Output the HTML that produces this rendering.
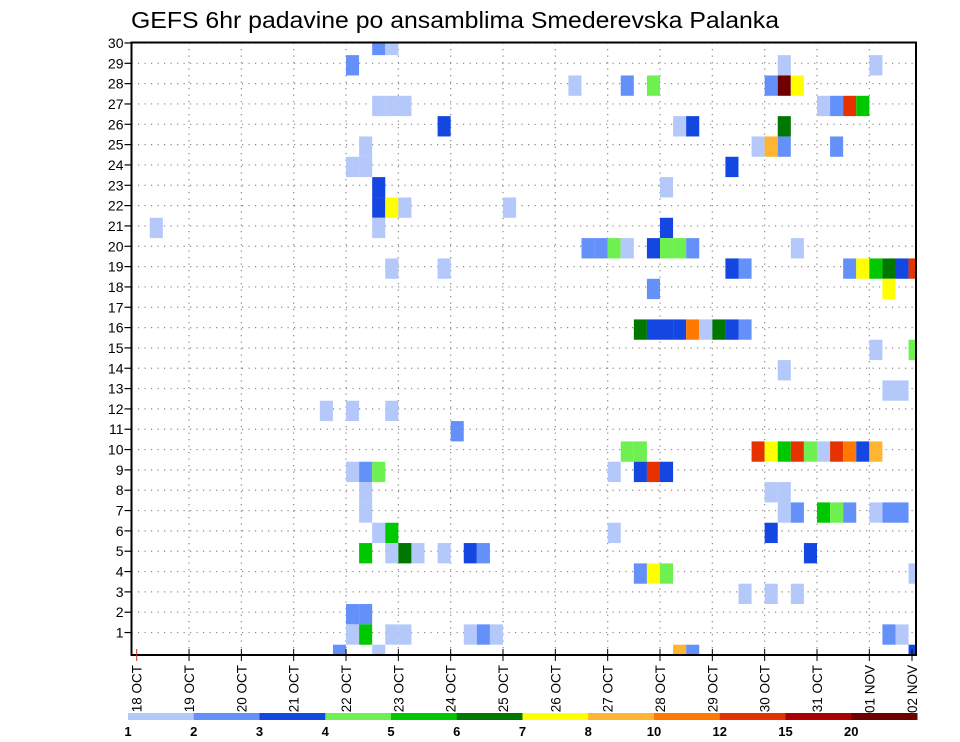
<!DOCTYPE html>
<html><head><meta charset="utf-8"><style>
html,body{margin:0;padding:0;background:#fff;}
svg{display:block;font-family:"Liberation Sans","DejaVu Sans",sans-serif;}
</style></head><body>
<svg id="chart" width="960" height="742" viewBox="0 0 960 742" xmlns="http://www.w3.org/2000/svg">
<rect width="960" height="742" fill="#fff"/>
<text x="131" y="28" font-size="23" textLength="648" lengthAdjust="spacingAndGlyphs" fill="#000">GEFS 6hr padavine po ansamblima Smederevska Palanka</text>
<g id="grid"></g><g id="cells"></g><g id="axes"></g><g id="legend"></g>
</svg>
<script>
// ---- data ----
const dayLabels = ["18 OCT","19 OCT","20 OCT","21 OCT","22 OCT","23 OCT","24 OCT","25 OCT","26 OCT","27 OCT","28 OCT","29 OCT","30 OCT","31 OCT","01 NOV","02 NOV"];
const memberTicks = [1,2,3,4,5,6,7,8,9,10,11,12,13,14,15,16,17,18,19,20,21,22,23,24,25,26,27,28,29,30];
const levelLabels = ["1","2","3","4","5","6","7","8","10","12","15","20"];
const levelColors = ["#b4c8fa","#6490fa","#1446e1","#6ef050","#00c800","#007800","#ffff00","#ffb432","#ff7800","#e63200","#aa0000","#700000"];
// cells: member row, 6-hour step index (from 18 OCT 00z), colour level index (0..11)
const cellMember = [
30,30, 29,29,29, 28,28,28,28,28,28, 27,27,27,27,27,27,27, 26,26,26,26, 25,25,25,25,25, 24,24,24, 23,23,
22,22,22,22, 21,21,21, 20,20,20,20,20,20,20,20,20, 19,19,19,19,19,19,19,19,19,19, 18,18,
16,16,16,16,16,16,16,16,16, 15,15, 14, 13,13, 12,12,12, 11,
10,10,10,10,10,10,10,10,10,10,10,10, 9,9,9,9,9,9,9, 8,8,8, 7,7,7,7,7,7,7,7,7,
6,6,6,6, 5,5,5,5,5,5,5,5, 4,4,4,4, 3,3,3, 2,2, 1,1,1,1,1,1,1,1,1, 0,0,0,0,0];
const cellStep = [
18,19, 16,49,56, 33,37,39,48,49,50, 18,19,20,52,53,54,55, 23,41,42,49, 17,47,48,49,53, 16,17,45, 18,40,
18,19,20,28, 1,18,40, 34,35,36,37,39,40,41,42,50, 19,23,45,46,54,55,56,57,58,59, 39,57,
38,39,40,41,42,43,44,45,46, 56,59, 49, 57,58, 14,16,19, 24,
37,38,47,48,49,50,51,52,53,54,55,56, 16,17,18,36,38,39,40, 17,48,49, 17,49,50,52,53,54,56,57,58,
18,19,36,48, 17,19,20,21,23,25,26,51, 38,39,40,59, 46,48,50, 16,17, 16,17,19,20,25,26,27,57,58, 15,18,41,42,59];
const cellLevel = [
1,0, 1,0,0, 0,1,3,1,11,6, 0,0,0,0,1,9,4, 2,0,2,5, 0,0,7,1,1, 0,0,2, 2,0,
2,6,0,0, 0,0,2, 1,1,3,0,2,3,3,1,0, 0,0,2,1,1,6,4,5,2,9, 1,6,
5,2,2,2,8,0,5,2,1, 0,3, 0, 0,0, 0,0,0, 1,
3,3,9,6,4,9,3,0,9,8,2,7, 0,1,3,0,2,9,2, 0,0,0, 0,0,1,4,3,1,0,1,1,
0,4,0,2, 4,0,5,0,0,2,1,2, 1,6,3,0, 0,0,0, 1,1, 0,4,0,0,0,1,0,1,0, 1,0,7,1,2];

// ---- scales ----
const L=131.5, R=916, T=42.5, B=655;
const X0=136.7, DAY=52.33, STEP=DAY/4;
const ROW=20.33;
function xStep(s){return X0+s*STEP;}
function yMember(m){return 63.3+(29-m)*ROW+2;}
const NS="http://www.w3.org/2000/svg";
function mk(tag,attrs,parent){const e=document.createElementNS(NS,tag);for(const k in attrs)e.setAttribute(k,attrs[k]);parent.appendChild(e);return e;}
const grid=document.getElementById('grid'),cells=document.getElementById('cells'),axes=document.getElementById('axes'),legend=document.getElementById('legend');

// grid
memberTicks.forEach(m=>{const y=yMember(m)-2;
  const ln=mk('line',{x1:L,x2:R,y1:y,y2:y,stroke:'#888','stroke-width':1.2,'stroke-dasharray':'1.2,5.3'},grid);
  
  
});
dayLabels.forEach((d,i)=>{let x=X0+i*DAY; if(x>R)x=R; if(i===0)return;
  const ln=mk('line',{x1:x,x2:x,y1:T,y2:B,stroke:'#888','stroke-width':1.2,'stroke-dasharray':'1.2,5.3'},grid);
  
  
});

// cells
mk('clipPath',{id:'pc'},cells).appendChild(document.createElementNS(NS,'rect'));
const cr=document.querySelector('#pc rect');cr.setAttribute('x',L);cr.setAttribute('y',T);cr.setAttribute('width',R-L);cr.setAttribute('height',B-T);
const cg=mk('g',{'clip-path':'url(#pc)'},cells);
for(let k=0;k<cellMember.length;k++){
  const x=xStep(cellStep[k]), yc=yMember(cellMember[k]);
  const r=mk('rect',{x:x.toFixed(2),y:(yc-ROW/2).toFixed(2),width:STEP.toFixed(2),height:ROW.toFixed(2),fill:levelColors[cellLevel[k]]},cg);
  
  
}

// frame
const fr=mk('rect',{x:L,y:T,width:R-L,height:B-T,fill:'none',stroke:'#000','stroke-width':2},axes);



// y axis
memberTicks.forEach(m=>{const y=yMember(m)-2;
  mk('line',{x1:L-7,x2:L+1,y1:y,y2:y,stroke:'#000','stroke-width':1.2},axes);
  const t=mk('text',{x:L-8,y:y+5,'font-size':14,'text-anchor':'end',fill:'#000'},axes);
  t.textContent=m;
  
  
});
// x axis
dayLabels.forEach((d,i)=>{let x=X0+i*DAY; if(x>R)x=R-4;
  mk('line',{x1:x,x2:x,y1:B-6,y2:B+6,stroke:i===0?'#c33':'#000','stroke-width':1},axes);
  const t=mk('text',{x:0,y:0,'font-size':13.5,'text-anchor':'end',fill:'#000',transform:`translate(${x+5},${B+10}) rotate(-90)`},axes);
  t.textContent=d;
  
  
});

// legend colour bar
const LX=128, LW=(917-128)/12;
levelColors.forEach((c,i)=>{
  const r=mk('rect',{x:LX+i*LW,y:713,width:LW+0.5,height:7,fill:c},legend);
  
  
});
levelLabels.forEach((s,i)=>{
  const t=mk('text',{x:LX+i*LW,y:736,'font-size':13,'font-weight':'bold','text-anchor':'middle',fill:'#000'},legend);
  t.textContent=s;
  
  
});
</script>
</body></html>
